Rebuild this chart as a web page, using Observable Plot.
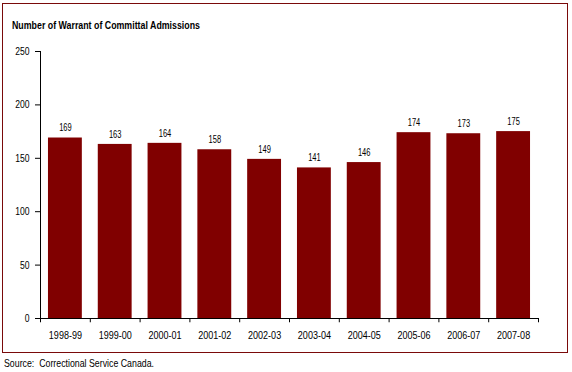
<!DOCTYPE html>
<html>
<head>
<meta charset="utf-8">
<script src="https://cdn.jsdelivr.net/npm/d3@7"></script>
<script src="https://cdn.jsdelivr.net/npm/@observablehq/plot@0.6"></script>
<style>
  html, body { margin: 0; padding: 0; background: #fff; }
  #wrap { position: relative; width: 572px; height: 372px; overflow: hidden; font-family: "Liberation Sans", Arial, sans-serif; }
  #box { position: absolute; left: 2px; top: 3px; width: 564px; height: 348px; border: 1.5px solid #7a0a0a; }
  #title { position: absolute; left: 12px; top: 19px; font-weight: bold; font-size: 11px; color: #000; white-space: nowrap; transform-origin: 0 0; }
  #source { position: absolute; left: 4px; top: 357px; font-size: 11px; color: #000; white-space: nowrap; transform-origin: 0 0; }
  #chart { position: absolute; left: 0; top: 0; }
</style>
</head>
<body>
<div id="wrap">
  <div id="box"></div>
  <div id="chart"></div>
  <div id="title">Number of Warrant of Committal Admissions</div>
  <div id="source">Source:&nbsp; Correctional Service Canada.</div>
</div>
<script>
const years = ["1998-99","1999-00","2000-01","2001-02","2002-03","2003-04","2004-05","2005-06","2006-07","2007-08"];
const admissions = [169, 163, 164, 158, 149, 141, 146, 174, 173, 175];
const yTicks = [0, 50, 100, 150, 200, 250];

const data = years.map((y, i) => ({year: y, value: admissions[i]}));

const chart = Plot.plot({
  width: 572,
  height: 372,
  marginLeft: 40,
  marginRight: 34,
  marginTop: 51,
  marginBottom: 54,
  style: {fontFamily: "'Liberation Sans', Arial, sans-serif", fontSize: "11px", color: "#000", background: "transparent"},
  x: {domain: years, paddingInner: 0.32, paddingOuter: 0.16, align: 0.5, round: false},
  y: {domain: [0, 250]},
  marks: [
    Plot.barY(data, {x: "year", y: "value", fill: "#800000"}),
    Plot.text(data, {x: "year", y: "value", text: d => String(d.value), dy: -10, fill: "#000", fontSize: 10, className: "vlab"}),
    Plot.ruleY([0], {stroke: "#000", strokeWidth: 1}),
    Plot.frame({anchor: "left", stroke: "#000"}),
    Plot.ruleX(years, {x: d => d, y1: 0, y2: -4, dx: -24.9, stroke: "#000"}),
    Plot.ruleX([years[years.length - 1]], {x: d => d, y1: 0, y2: -4, dx: 24.9, stroke: "#000"}),
    Plot.axisY({ticks: yTicks, tickSize: 5, tickPadding: 6, label: null, fontSize: 11, className: "ylab"}),
    Plot.axisX({tickSize: 0, tickPadding: 13, label: null, fontSize: 11, className: "xlab"})
  ]
});
document.getElementById("chart").appendChild(chart);

// narrow the glyphs to mimic the condensed face of the original
function condense(selector, factor) {
  chart.querySelectorAll(selector + " text").forEach(t => {
    const w = t.getComputedTextLength();
    if (w > 0) {
      t.setAttribute("textLength", (w * factor).toFixed(2));
      t.setAttribute("lengthAdjust", "spacingAndGlyphs");
    }
  });
}
condense(".xlab", 0.82);
condense(".ylab", 0.78);
condense(".vlab", 0.75);

function fitWidth(id, target) {
  const el = document.getElementById(id);
  const w = el.getBoundingClientRect().width;
  el.style.transform = `scaleX(${target / w})`;
}
fitWidth("title", 188);
fitWidth("source", 150);
</script>
</body>
</html>
